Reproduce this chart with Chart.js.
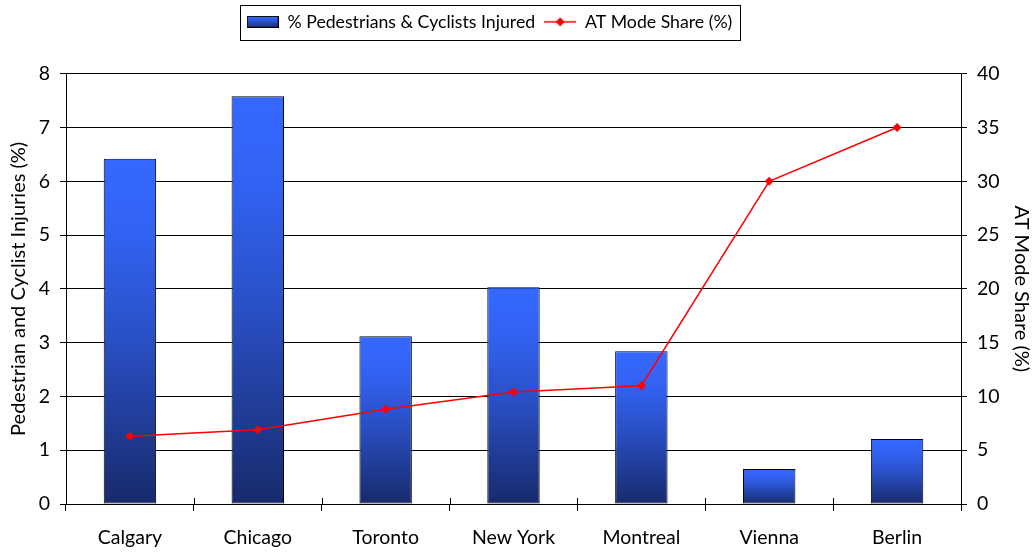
<!DOCTYPE html>
<html>
<head>
<meta charset="utf-8">
<script src="https://cdn.jsdelivr.net/npm/chart.js@4.4.1/dist/chart.umd.min.js"></script>
<style>
html,body{margin:0;padding:0;background:#fff;}
#wrap{width:1035px;height:554px;position:relative;}
</style>
</head>
<body>
<div id="wrap"><canvas id="c" width="1035" height="554"></canvas></div>
<script>
const categories = ["Calgary","Chicago","Toronto","New York","Montreal","Vienna","Berlin"];
const injuredPct = [6.42, 7.58, 3.12, 4.03, 2.84, 0.65, 1.21];
const atModeShare = [6.3, 6.9, 8.8, 10.4, 11.0, 30, 35];
const leftTicks = [0,1,2,3,4,5,6,7,8];
const rightTicks = [0,5,10,15,20,25,30,35,40];
const seriesNames = ["% Pedestrians & Cyclists Injured", "AT Mode Share (%)"];
const axisTitles = ["Pedestrian and Cyclist Injuries (%)", "AT Mode Share (%)"];

const FONT = "Lato, 'Open Sans', sans-serif";
const GRAD_STOPS = [[0, "#3468ff"], [0.2, "#3263f4"], [0.5, "#2a51c9"], [0.8, "#1f3a91"], [1, "#182a6c"]];

function barGradient(context){
  const chart = context.chart;
  const {ctx, chartArea, scales} = chart;
  if (!chartArea || context.type !== 'data') return GRAD_STOPS[0][1];
  const yTop = scales.y.getPixelForValue(context.raw);
  const yBot = scales.y.getPixelForValue(0);
  const g = ctx.createLinearGradient(0, yTop, 0, yBot);
  GRAD_STOPS.forEach(s => g.addColorStop(s[0], s[1]));
  return g;
}

function makeBarMarker(){
  const c = document.createElement('canvas');
  c.width = 32; c.height = 12;
  const x = c.getContext('2d');
  const g = x.createLinearGradient(0,0,0,12);
  GRAD_STOPS.forEach(s => g.addColorStop(s[0], s[1]));
  x.fillStyle = g; x.fillRect(0,0,32,12);
  x.strokeStyle = '#000'; x.lineWidth = 1; x.strokeRect(0.5,0.5,31,11);
  return c;
}
function makeLineMarker(){
  const c = document.createElement('canvas');
  c.width = 32; c.height = 12;
  const x = c.getContext('2d');
  x.strokeStyle = '#ff0000'; x.lineWidth = 1.5;
  x.beginPath(); x.moveTo(0,6); x.lineTo(32,6); x.stroke();
  x.fillStyle = '#ff0000';
  x.beginPath(); x.moveTo(16,1.5); x.lineTo(20.5,6); x.lineTo(16,10.5); x.lineTo(11.5,6); x.closePath(); x.fill();
  return c;
}
const markers = [makeBarMarker(), makeLineMarker()];

const legendTweaks = {
  id: 'legendTweaks',
  afterLayout(chart){
    const lg = chart.legend;
    if (!lg) return;
    lg.left -= 28; lg.right -= 28;
  },
  afterDraw(chart){
    const ctx = chart.ctx;
    // inner category tick marks crossing the x axis
    const xs = chart.scales.x;
    const n = categories.length;
    const step = (xs.right - xs.left) / n;
    ctx.save();
    ctx.strokeStyle = '#000';
    ctx.lineWidth = 1;
    ctx.beginPath();
    for (let i = 1; i < n; i++) {
      const px = Math.round(xs.left + i * step) + 0.5;
      ctx.moveTo(px, xs.top - 6);
      ctx.lineTo(px, xs.top);
    }
    ctx.stroke();
    ctx.restore();

    const lg = chart.legend;
    if (!lg || !lg.legendHitBoxes || !lg.legendHitBoxes.length) return;
    const hb = lg.legendHitBoxes;
    const l = hb[0].left - 7;
    const r = hb[hb.length-1].left + hb[hb.length-1].width + 7;
    const t = hb[0].top - 8;
    const b = hb[0].top + hb[0].height + 9;
    ctx.save();
    ctx.strokeStyle = '#000';
    ctx.lineWidth = 1;
    ctx.strokeRect(Math.round(l)+0.5, Math.round(t)+0.5, Math.round(r-l), Math.round(b-t));
    ctx.restore();
  }
};

new Chart(document.getElementById('c'), {
  data: {
    labels: categories,
    datasets: [
      {
        type: 'line',
        label: seriesNames[1],
        data: atModeShare,
        yAxisID: 'y1',
        borderColor: '#ff0000',
        backgroundColor: '#ff0000',
        borderWidth: 1.5,
        pointStyle: 'rectRot',
        pointRadius: 4.5,
        pointBorderWidth: 0,
        tension: 0,
        order: 0
      },
      {
        type: 'bar',
        label: seriesNames[0],
        data: injuredPct,
        yAxisID: 'y',
        backgroundColor: barGradient,
        borderColor: '#000',
        borderWidth: 1,
        borderSkipped: false,
        barPercentage: 0.41,
        categoryPercentage: 1.0,
        order: 1
      }
    ]
  },
  options: {
    responsive: false,
    animation: false,
    devicePixelRatio: 1,
    layout: { padding: { top: 4, left: 0, right: 0, bottom: 0 } },
    plugins: {
      tooltip: { enabled: false },
      subtitle: {
        display: true,
        text: '',
        weight: 500,
        font: { size: 10, lineHeight: 1 },
        padding: { top: 0, bottom: 23 }
      },
      legend: {
        position: 'top',
        reverse: true,
        labels: {
          font: { family: FONT, size: 17.7 },
          color: '#000',
          usePointStyle: true,
          pointStyleWidth: 32,
          padding: 9,
          generateLabels(chart){
            const items = Chart.defaults.plugins.legend.labels.generateLabels(chart);
            items.forEach(it => {
              it.pointStyle = markers[it.datasetIndex === 1 ? 0 : 1];
              it.lineWidth = 0;
            });
            return items;
          }
        }
      }
    },
    scales: {
      x: {
        type: 'category',
        offset: true,
        grid: { offset: true, drawOnChartArea: false, color: '#000', tickLength: 7, lineWidth: 1 },
        border: { color: '#000', width: 1 },
        ticks: { font: { family: FONT, size: 19.5 }, color: '#000', padding: 15 },
        afterFit(s){ s.height = 50; }
      },
      y: {
        type: 'linear',
        position: 'left',
        min: 0, max: 8,
        afterBuildTicks(s){ s.ticks = leftTicks.map(v => ({value: v})); },
        grid: { color: '#000', lineWidth: 1, tickLength: 6 },
        border: { color: '#000', width: 1 },
        ticks: { font: { family: FONT, size: 19.5 }, color: '#000', padding: 10 },
        title: { display: true, text: axisTitles[0], font: { family: FONT, size: 20 }, color: '#000', padding: { top: 7, bottom: 0 } },
        afterFit(s){ s.width = 66; }
      },
      y1: {
        type: 'linear',
        position: 'right',
        min: 0, max: 40,
        afterBuildTicks(s){ s.ticks = rightTicks.map(v => ({value: v})); },
        grid: { drawOnChartArea: false, color: '#000', lineWidth: 1, tickLength: 6 },
        border: { color: '#000', width: 1 },
        ticks: { font: { family: FONT, size: 19.5 }, color: '#000', padding: 10 },
        title: { display: true, text: axisTitles[1], font: { family: FONT, size: 20 }, color: '#000', padding: { top: 2, bottom: 0 } },
        afterFit(s){ s.width = 74; }
      }
    }
  },
  plugins: [legendTweaks]
});
</script>
</body>
</html>
